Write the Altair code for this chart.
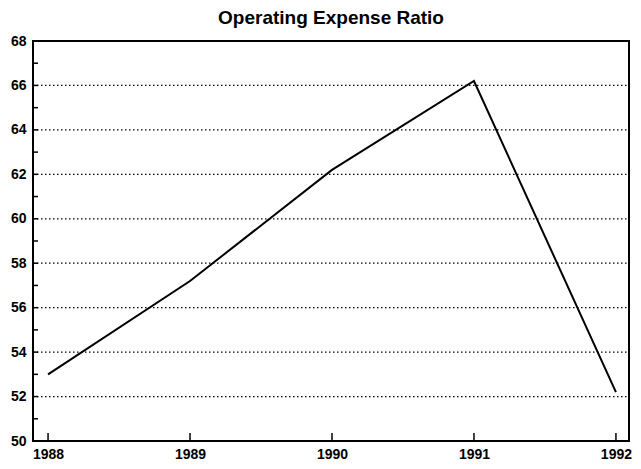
import altair as alt
import pandas as pd

years = [1988, 1989, 1990, 1991, 1992]
ratio = [53.0, 57.2, 62.2, 66.2, 52.2]
y_labels = [50, 52, 54, 56, 58, 60, 62, 64, 66, 68]
grid_values = [52, 54, 56, 58, 60, 62, 64, 66]
ytick_values = [51, 52, 53, 54, 55, 56, 57, 58, 59, 60, 61, 62, 63, 64, 65, 66, 67]

W, H = 596, 400
FONT = "Liberation Sans"

xscale = alt.Scale(domain=[1987.894, 1992.092], nice=False, zero=False)
yscale = alt.Scale(domain=[50, 68], nice=False, zero=False)

line_df = pd.DataFrame({"year": years, "ratio": ratio})
grid_df = pd.DataFrame({"g": grid_values})
ytick_df = pd.DataFrame({"t": ytick_values})
xtick_df = pd.DataFrame({"yr": years})

xaxis = alt.Axis(values=years, format="d", ticks=False, domain=False, grid=False,
                 labelFont=FONT, labelFontWeight="bold", labelFontSize=14,
                 labelColor="black", labelPadding=6, title=None)
yaxis = alt.Axis(values=y_labels, ticks=False, domain=False, grid=False,
                 labelFont=FONT, labelFontWeight="bold", labelFontSize=14,
                 labelColor="black", labelPadding=7, title=None)

grid = alt.Chart(grid_df).mark_rule(color="black", strokeWidth=1.2, strokeDash=[1.5, 2.5]).encode(
    y=alt.Y("g:Q", scale=yscale, axis=yaxis),
    x=alt.value(0), x2=alt.value(W),
)

yticks = alt.Chart(ytick_df).mark_rule(color="black", strokeWidth=1.5).encode(
    y=alt.Y("t:Q", scale=yscale),
    x=alt.value(0), x2=alt.value(5),
)

xticks = alt.Chart(xtick_df).mark_rule(color="black", strokeWidth=1.5).encode(
    x=alt.X("yr:Q", scale=xscale, axis=xaxis),
    y=alt.value(H), y2=alt.value(H - 8),
)

line = alt.Chart(line_df).mark_line(color="black", strokeWidth=2).encode(
    x=alt.X("year:Q", scale=xscale),
    y=alt.Y("ratio:Q", scale=yscale),
)

chart = alt.layer(grid, yticks, xticks, line).properties(
    width=W, height=H,
    background="white",
    title=alt.TitleParams("Operating Expense Ratio", font=FONT, fontWeight="bold",
                          fontSize=19, color="black", offset=6, anchor="middle"),
    autosize=alt.AutoSizeParams(type="none"),
    padding={"left": 25, "top": 33, "right": 4, "bottom": 20},
).configure_view(stroke="black", strokeWidth=2)

chart.save("out.html", embed_options={"renderer": "svg", "actions": False})
